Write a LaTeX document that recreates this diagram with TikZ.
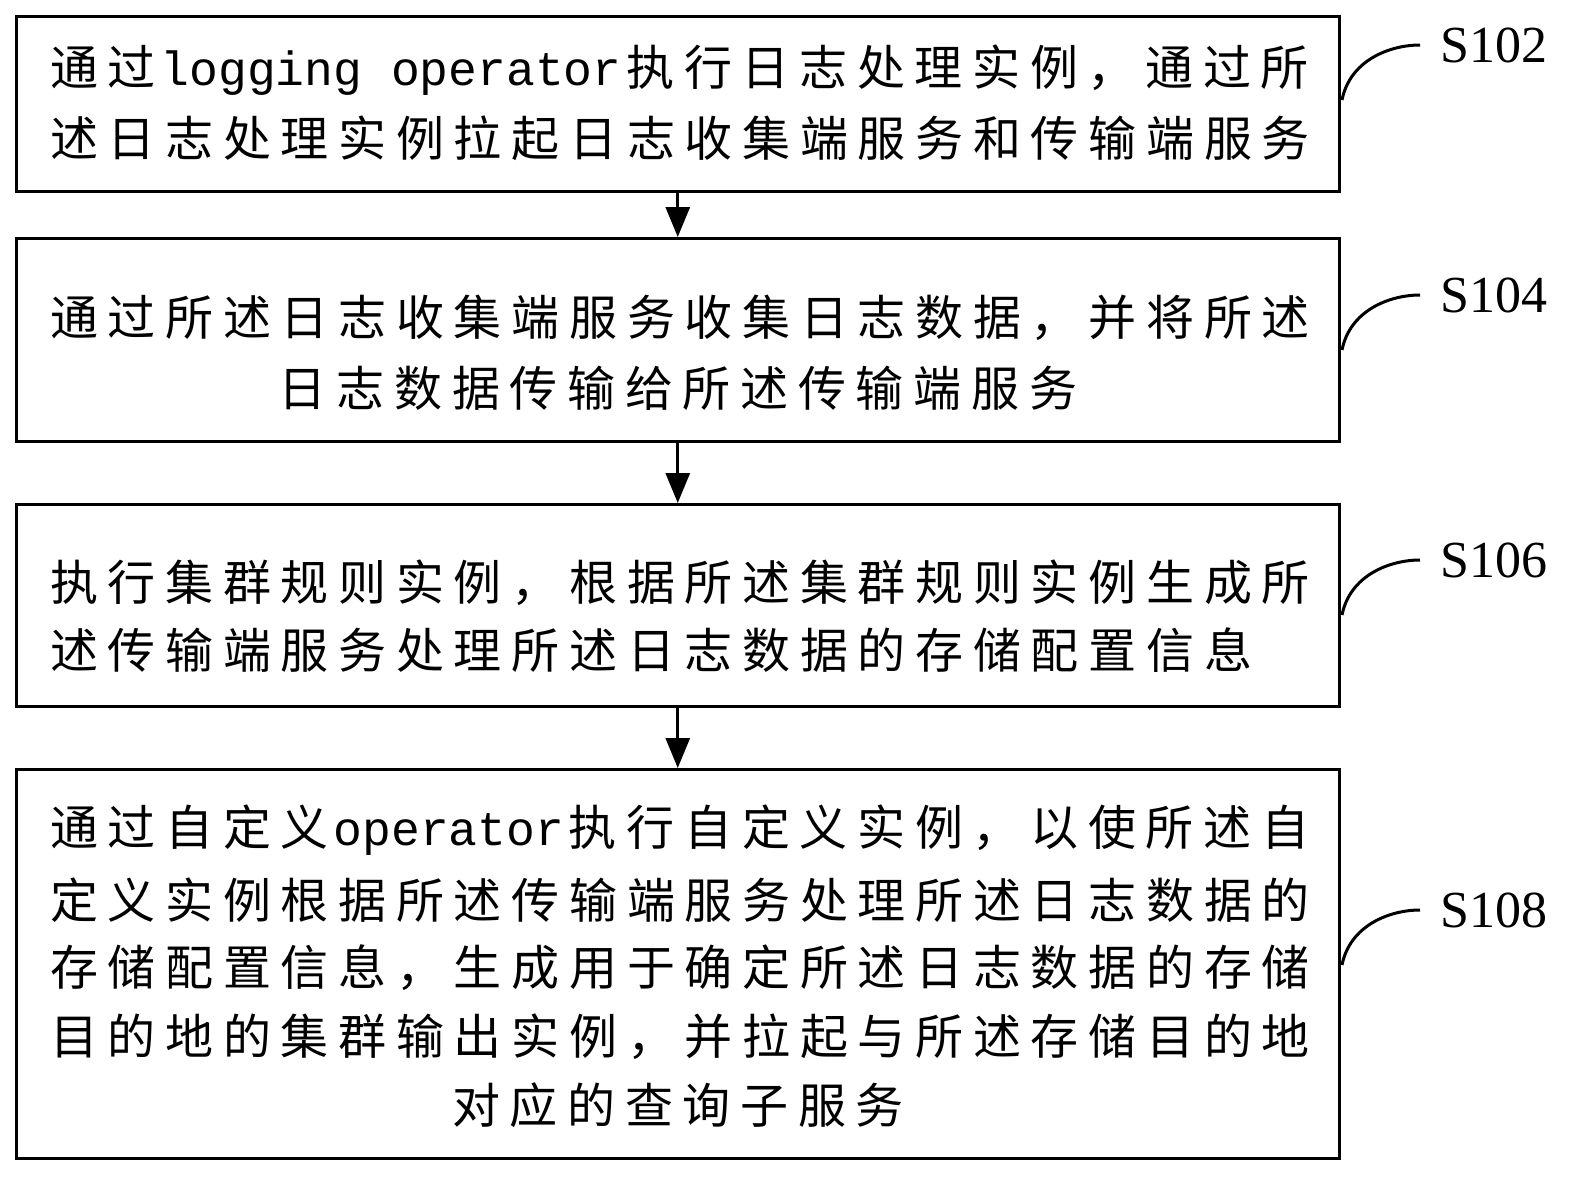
\documentclass[tikz,border=0pt]{standalone}
\usetikzlibrary{arrows.meta}
\usepackage{fontspec}
\newfontfamily\cjk{Noto Sans CJK SC}
\newfontfamily\mon{Liberation Mono}
\setmainfont{Liberation Serif}
\makeatletter
\def\cjs#1{\cjsloop#1\relax}
\def\cjsloop#1{\ifx#1\relax\else\makebox[57.7pt]{#1}\expandafter\cjsloop\fi}
\makeatother
\newcommand\ml[1]{{\mon\fontsize{48}{50}\selectfont #1}}
\begin{document}
\begin{tikzpicture}[x=1pt,y=-1pt,
  box/.style={draw,line width=2.5pt},
  ln/.style={anchor=west,inner sep=0,font=\cjk\fontsize{48}{50}\selectfont},
  cl/.style={inner sep=0,font=\cjk\fontsize{48}{50}\selectfont},
  arr/.style={line width=3pt,-{Triangle[length=30pt,width=24pt]}},
  lab/.style={anchor=west,inner sep=0,font=\fontsize{52}{54}\selectfont},
  crv/.style={line width=3pt}]
\useasboundingbox (0,0) rectangle (1580,1184);
\node[box,minimum width=1323pt,minimum height=175pt,anchor=north west] (b1) at (15,15) {};
\node[box,minimum width=1323pt,minimum height=203pt,anchor=north west] (b2) at (15,237) {};
\node[box,minimum width=1323pt,minimum height=202pt,anchor=north west] (b3) at (15,503) {};
\node[box,minimum width=1323pt,minimum height=389pt,anchor=north west] (b4) at (15,768) {};
\draw[arr] (b1.south) -- (b2.north);
\draw[arr] (b2.south) -- (b3.north);
\draw[arr] (b3.south) -- (b4.north);
\node[ln] (t11) at (45,70) {\cjs{通过}\ml{logging operator}\cjs{执行日志处理实例，通过所}};
\node[ln] (t12) at (45,138) {\cjs{述日志处理实例拉起日志收集端服务和传输端服务}};
\node[ln] (t21) at (45,318) {\cjs{通过所述日志收集端服务收集日志数据，并将所述}};
\node[cl] (t22) at (678,388) {\cjs{日志数据传输给所述传输端服务}};
\node[ln] (t31) at (45,583) {\cjs{执行集群规则实例，根据所述集群规则实例生成所}};
\node[ln] (t32) at (45,650) {\cjs{述传输端服务处理所述日志数据的存储配置信息}};
\node[ln] (t41) at (45,830) {\cjs{通过自定义}\ml{operator}\cjs{执行自定义实例，以使所述自}};
\node[ln] (t42) at (45,900) {\cjs{定义实例根据所述传输端服务处理所述日志数据的}};
\node[ln] (t43) at (45,968) {\cjs{存储配置信息，生成用于确定所述日志数据的存储}};
\node[ln] (t44) at (45,1037) {\cjs{目的地的集群输出实例，并拉起与所述存储目的地}};
\node[cl] (t45) at (678,1105) {\cjs{对应的查询子服务}};
\foreach \n/\y in {S102/45,S104/295,S106/560,S108/910}{
  \node[lab] (l\n) at (1440,\y) {\n};
  \coordinate (c\n) at (1342,\y+55);
  \coordinate (e\n) at (1420,\y);
  \draw[crv] (c\n) .. controls (1350,\y+15) and (1390,\y) .. (e\n);
}
\end{tikzpicture}
\end{document}
